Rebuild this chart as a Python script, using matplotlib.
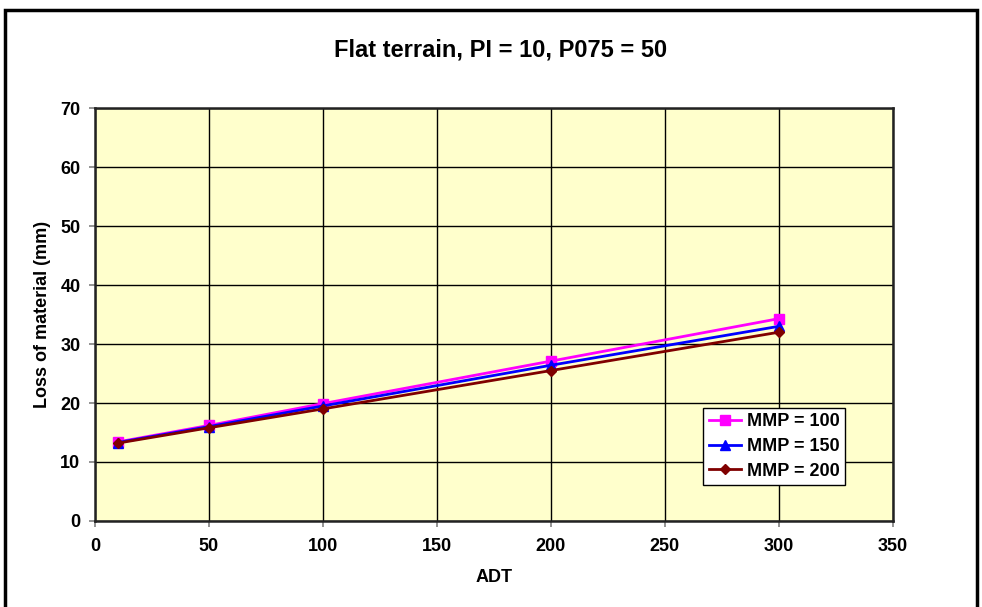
import matplotlib
matplotlib.use('Agg')
import matplotlib.pyplot as plt
from matplotlib.patches import Rectangle

plt.rcParams['font.family'] = ['Liberation Sans', 'DejaVu Sans']
plt.rcParams['font.weight'] = 'bold'

# Данные
adt = [10, 50, 100, 200, 300]
mmp100 = [13.4, 16.2, 19.9, 27.1, 34.3]
mmp150 = [13.3, 16.0, 19.5, 26.4, 33.0]
mmp200 = [13.2, 15.8, 19.0, 25.5, 32.0]

fig = plt.figure(figsize=(9.82, 6.07), dpi=100)
ax = fig.add_axes([0.0967, 0.1417, 0.8125, 0.6803])

# рамка вокруг всего рисунка
fig.patches.append(Rectangle((5 / 982, -0.05), 972 / 982, 1.05 - 10 / 607,
                             transform=fig.transFigure, fill=False,
                             edgecolor='black', linewidth=2.5, clip_on=False))

ax.set_facecolor('#FFFFCC')
ax.plot(adt, mmp100, marker='s', color='#FF00FF', markersize=7, linewidth=2, label='MMP = 100')
ax.plot(adt, mmp150, marker='^', color='#0000FF', markersize=7, linewidth=2, label='MMP = 150')
ax.plot(adt, mmp200, marker='D', color='#800000', markersize=5.5, linewidth=2, label='MMP = 200')

ax.set_xlim(0, 350)
ax.set_ylim(0, 70)
ax.set_xticks(range(0, 351, 50))
ax.set_yticks(range(0, 71, 10))
ax.grid(True, color='black', linewidth=1)
ax.set_axisbelow(True)
ax.tick_params(labelsize=13, direction='out', length=4.5, width=1.2, color='#808080')
ax.tick_params(axis='x', pad=8)
ax.tick_params(axis='y', pad=6)
for lbl in ax.get_xticklabels() + ax.get_yticklabels():
    lbl.set_fontweight('bold')
for sp in ax.spines.values():
    sp.set_color('#222222')
    sp.set_linewidth(1.8)

ax.set_xlabel('ADT', fontsize=13, fontweight='bold', va='center')
ax.set_ylabel('Loss of material (mm)', fontsize=13, fontweight='bold', va='center')
ax.xaxis.set_label_coords(0.5, -57 / 413)
ax.yaxis.set_label_coords(-52 / 798, 0.5)
fig.text(501 / 982, 1 - 50 / 607, 'Flat terrain, PI = 10, P075 = 50', ha='center', va='center',
         fontsize=17, fontweight='bold')

leg = ax.legend(loc='lower right', bbox_to_anchor=(845 / 798 - 95 / 798, (521 - 485) / 413),
                prop={'weight': 'bold', 'size': 13}, fancybox=False, framealpha=1,
                edgecolor='black', borderpad=0.3, labelspacing=0.42, handlelength=1.8,
                handletextpad=0.3, borderaxespad=0)
leg.get_frame().set_linewidth(1)

fig.savefig('out.png', dpi=100)
